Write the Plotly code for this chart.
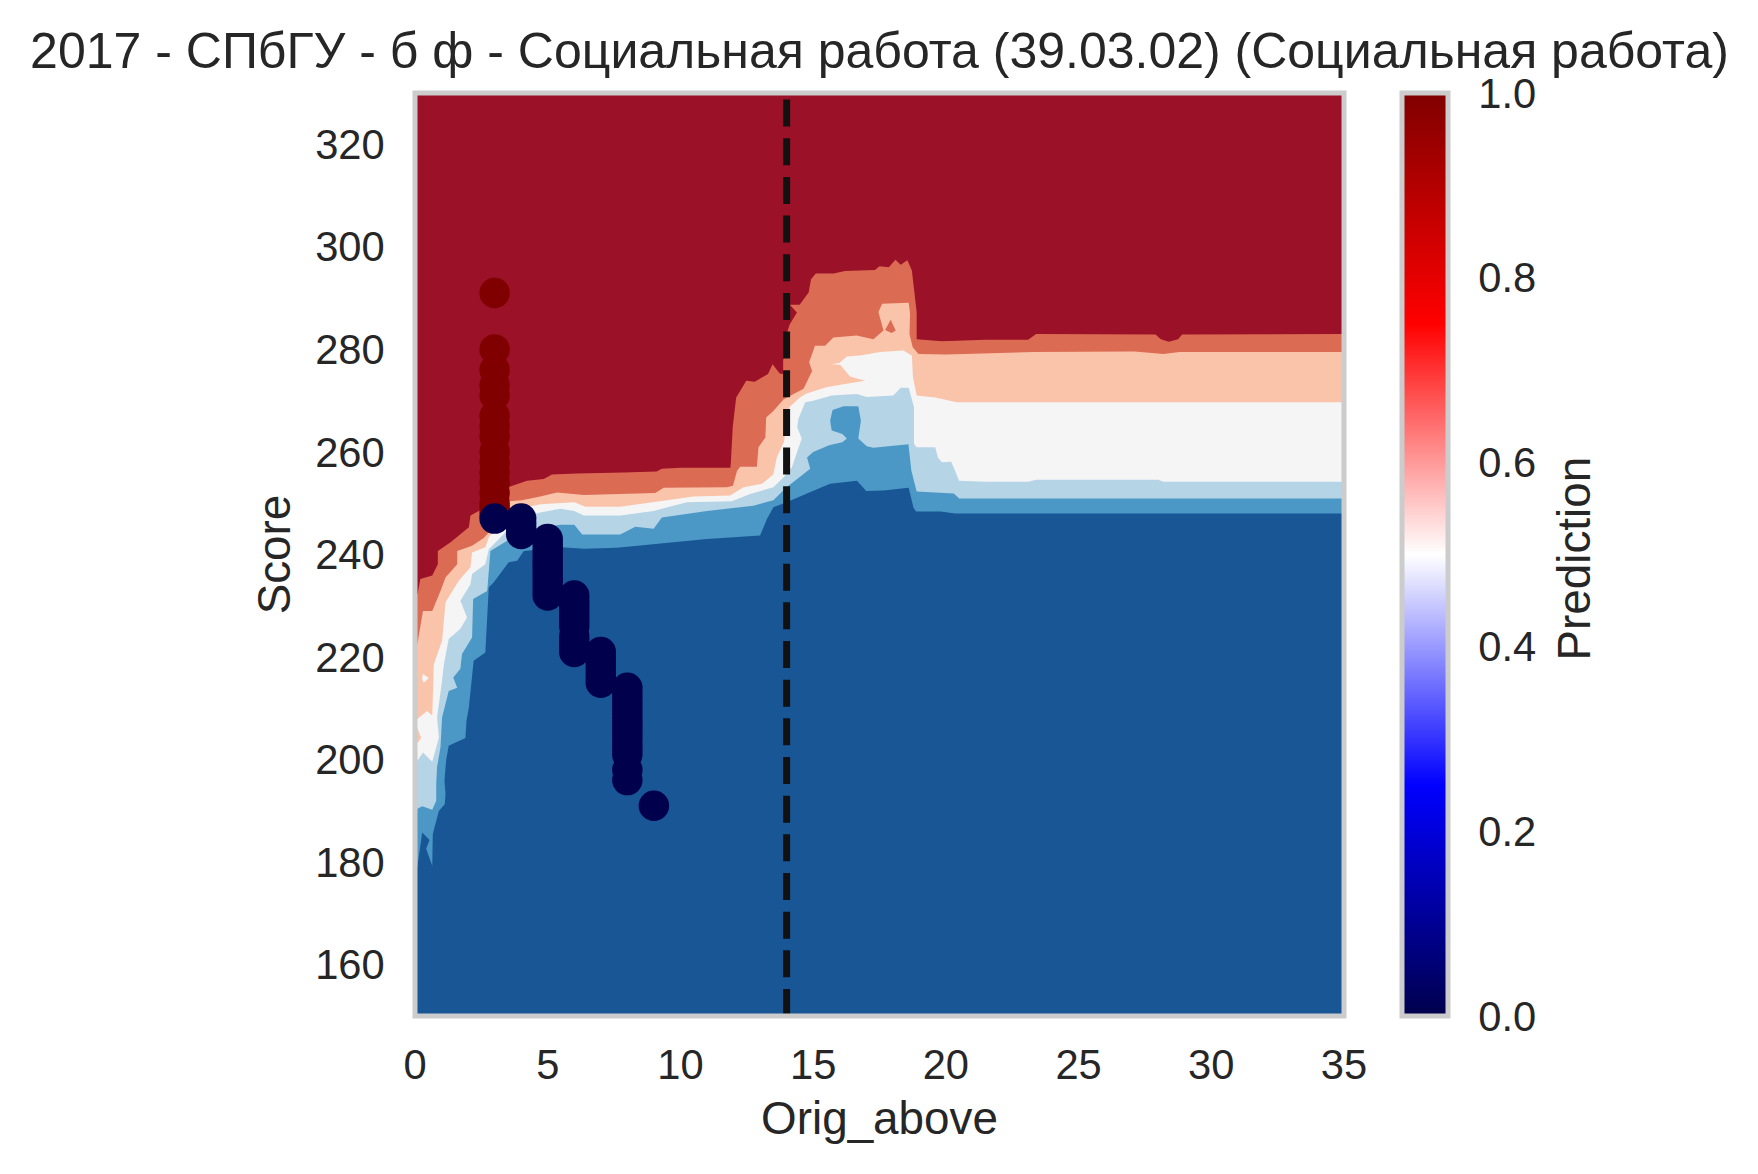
import plotly.graph_objects as go

TITLE = "2017 - СПбГУ - б ф - Социальная работа (39.03.02) (Социальная работа)"
X_LABEL = "Orig_above"
Y_LABEL = "Score"
CBAR_LABEL = "Prediction"
X_TICKS = [0, 5, 10, 15, 20, 25, 30, 35]
Y_TICKS = [160, 180, 200, 220, 240, 260, 280, 300, 320]
CBAR_TICKS = [0.0, 0.2, 0.4, 0.6, 0.8, 1.0]
THRESHOLD_X = 14

# Band boundaries: (Orig_above, Score)
salmon_top_x = [0, .1, .2, .65, .86, .86, 1.34, 1.71, 2.03, 2.09, 2.4, 3.0, 3.56, 4.22, 4.85, 5.16, 6.1, 7.86, 9.1, 9.3, 10, 11.88, 11.9, 11.97, 12.1, 12.25, 12.48, 12.8, 13.3, 13.47, 13.74, 13.87, 13.87, 14.0, 14.12, 14.39, 14.12, 14.49, 14.83, 14.92, 15.1, 15.77, 16.2, 17.33, 17.5, 17.85, 18.1, 18.3, 18.55, 18.72, 18.9, 18.9, 19.85, 21.5, 23.1, 23.4, 27.2, 27.9, 28.1, 28.4, 28.75, 28.9, 35]
salmon_top_y = [232, 232.3, 235.2, 235.9, 238.1, 240.7, 242.4, 244, 245.3, 247.6, 248.5, 251, 253.2, 254.4, 254.7, 255.6, 255.8, 256, 256.2, 256.7, 256.9, 256.9, 258, 264.8, 270.6, 271.9, 273.9, 273.7, 275.2, 277.1, 275.3, 275.2, 277.7, 283, 284.9, 287.2, 288.7, 288.7, 291.1, 293.7, 294.8, 294.8, 295.3, 295.5, 296.2, 296, 297.5, 296.5, 297.4, 295.4, 287.3, 282, 281.6, 281.9, 281.9, 283, 283, 282.9, 282, 281.5, 282, 282.9, 283]

light_salmon_top_x = [0, .1, .3, .65, .96, 1.15, 1.59, 1.59, 2.15, 2.59, 2.78, 3.2, 3.56, 4.03, 4.72, 5.35, 6.36, 9.05, 9.37, 11.75, 11.98, 12.13, 12.25, 12.88, 12.94, 13.2, 13.23, 13.5, 13.89, 14.26, 14.64, 14.96, 14.85, 15.07, 15.45, 15.76, 16.64, 17.27, 17.65, 17.46, 17.6, 18.6, 18.65, 18.63, 18.75, 18.97, 20, 23.3, 27.1, 28.2, 28.8, 35]
light_salmon_top_y = [221, 222.9, 229, 229, 232.9, 235.5, 238.1, 240.7, 241.7, 243.2, 244.3, 248, 250.4, 250.6, 251.3, 252.1, 251.6, 252, 253, 253.1, 253.4, 256.3, 257.1, 257.1, 260.9, 262.8, 266.7, 268, 270.3, 271.3, 272.3, 275.8, 277.5, 280.7, 280.7, 282.3, 282.7, 282, 283.7, 287.3, 288.9, 289.1, 287, 283, 280.4, 279.1, 279, 279.5, 279.6, 279.1, 279.5, 279.5]

white_top_x = [0, .46, .65, .69, .71, 1.02, 1.15, 1.65, 2.09, 2.15, 2.65, 2.78, 3.2, 3.6, 4.72, 6.0, 6.42, 7.73, 9.05, 10.5, 11.87, 12.38, 13.07, 13.5, 13.63, 13.9, 14.1, 14.5, 14.75, 15.5, 16.14, 16.96, 16.39, 16.02, 15.7, 16.0, 16.27, 16.77, 17.52, 18.4, 18.72, 18.76, 18.9, 19.6, 20.4, 35]
white_top_y = [207.6, 209.5, 208.6, 214.1, 218.6, 223.2, 230.7, 234.9, 237.5, 240.4, 241.4, 243.3, 246.5, 248.5, 249.8, 250.2, 249.3, 249.3, 250.2, 251.3, 251.5, 253.1, 253.8, 255.6, 258.9, 262, 268.7, 270.6, 271.4, 272.6, 273.2, 273.9, 274.7, 277, 277.1, 277.4, 278.6, 278.8, 279.5, 279.8, 278.8, 274.6, 271, 270.6, 269.7, 269.7]

light_blue_top_x = [0, .09, .3, .65, .9, .83, 1.02, 1.09, 1.27, 1.71, 1.96, 1.71, 2.09, 2.15, 2.65, 2.78, 3.22, 3.9, 4.72, 5.48, 6, 6.36, 7.73, 8.99, 10.24, 11.94, 12.63, 13.5, 13.88, 14.2, 14.57, 14.4, 14.45, 14.7, 15.0, 15.7, 16.65, 17.02, 18.02, 18.3, 18.6, 18.8, 18.8, 18.9, 19.6, 19.7, 19.85, 20.2, 20.35, 20.5, 21.5, 23.1, 23.4, 28, 28.2, 35]
light_blue_top_y = [199.5, 199.8, 201.4, 199.6, 204.3, 208.2, 215.4, 218.6, 223.5, 225.5, 227.7, 231, 234.2, 236.2, 238.1, 241, 243.3, 247, 248.2, 248.9, 248.5, 247.6, 247.6, 248.5, 250.2, 250.4, 251.8, 253.1, 255, 257, 262.6, 264.8, 266.5, 269.7, 270, 271, 271.3, 270.7, 271, 272.5, 272.5, 268.7, 261.6, 260.9, 260.9, 258.9, 258, 258.1, 256.3, 254.4, 254.2, 254.2, 254.6, 254.6, 254.2, 254.2]

mid_blue_top_x = [0, .09, .27, .65, .8, .8, .83, .96, 1.02, 1.27, 1.59, 1.44, 1.71, 1.77, 2.15, 2.19, 2.72, 2.84, 3.47, 4.5, 5.48, 6, 6.3, 7.73, 8.3, 8.99, 9.3, 11, 12.75, 13.5, 14, 14.89, 14.77, 15, 15.6, 16.1, 16.27, 16.1, 15.7, 15.64, 15.73, 16.15, 16.7, 16.8, 16.7, 17.02, 17.27, 18.59, 18.7, 18.9, 20.3, 20.5, 35]
mid_blue_top_y = [190, 190.4, 190.9, 190.2, 192, 195.2, 198.5, 202.4, 208.2, 213.4, 214, 216, 217.7, 220.6, 223.8, 231.3, 232.9, 240.7, 242.7, 245, 245.8, 245.8, 243.9, 243.9, 245.4, 245, 247.2, 248.5, 249.5, 250.6, 253.1, 256.7, 258.9, 260, 261.3, 261.9, 262.6, 263.5, 264.2, 266.1, 268.2, 268.9, 268.9, 266.1, 262.6, 261.1, 260.8, 261.5, 256.4, 252.3, 251.9, 250.9, 250.9]

dark_blue_top_x = [0, .09, .27, .55, .42, .65, .67, .77, .9, 1.12, 1.15, 1.11, 1.17, 1.27, 1.9, 1.94, 2.03, 2.21, 2.65, 2.78, 2.97, 3.53, 3.85, 4.1, 5.54, 6.36, 7.61, 9.74, 11, 13, 13.26, 13.5, 14, 14.9, 15.64, 16.65, 17, 17.65, 18.6, 18.78, 18.88, 19.8, 20.35, 35]
dark_blue_top_y = [179, 179.1, 185.8, 184.3, 182.6, 179.3, 185.5, 187.4, 190, 191.3, 193.3, 195.9, 199.8, 202.7, 204.2, 207.6, 210.2, 219.3, 220.9, 233.6, 234.6, 238.5, 238.8, 240.7, 241.4, 241.1, 241.3, 242.4, 243, 243.7, 246.9, 249.2, 250.2, 252.2, 253.8, 254.4, 252.4, 252.5, 253, 249.1, 248.4, 248.4, 248, 248]

# Small islands of one band inside another
white_island_x = [.29, .52, .33, .27]
white_island_y = [216.7, 215.9, 215, 215.7]
light_salmon_island_x = [0, .1, .23, .1, 0]
light_salmon_island_y = [206.5, 206, 204.2, 203.3, 203.5]
salmon_island_x = [17.71, 17.92, 18.11, 17.96]
salmon_island_y = [283.8, 285.8, 283.7, 283.2]

# Observations
admitted_x = [3] * 16
admitted_score = [291, 280, 276, 273, 271, 267, 265, 263, 260, 258, 256, 254, 252, 250, 249, 248]
rejected_x = [3] + [4] * 4 + [5] * 12 + [6] * 11 + [7] * 7 + [8] * 16 + [9]
rejected_score = [247,
                  247, 246, 245, 244,
                  243, 242, 241, 240, 239, 238, 237, 236, 235, 234, 233, 232,
                  232, 231, 230, 229, 228, 227, 226, 224, 223, 222, 221,
                  221, 220, 219, 218, 217, 216, 215,
                  214, 213, 212, 211, 210, 209, 208, 207, 206, 205, 204, 203, 202, 201, 198, 196,
                  191]
point_x = admitted_x + rejected_x
point_score = admitted_score + rejected_score
point_pred = [1] * len(admitted_x) + [0] * len(rejected_x)

RED = "#9b1127"; SALMON = "#dc6b54"; LIGHT_SALMON = "#fac4aa"; WHITE = "#f5f5f5"
LIGHT_BLUE = "#b5d5e7"; MID_BLUE = "#4b98c6"; DARK_BLUE = "#195696"
INK = "#262626"; SPINE = "#cccccc"
FONT = "Liberation Sans, Arial, sans-serif"
SEISMIC = [[0, "#00004d"], [.25, "#0000ff"], [.5, "#ffffff"], [.75, "#ff0000"], [1, "#800000"]]

fig = go.Figure()
for xs, ys, col in [
    (salmon_top_x, salmon_top_y, SALMON),
    (light_salmon_top_x, light_salmon_top_y, LIGHT_SALMON),
    (white_top_x, white_top_y, WHITE),
    (light_blue_top_x, light_blue_top_y, LIGHT_BLUE),
    (mid_blue_top_x, mid_blue_top_y, MID_BLUE),
    (dark_blue_top_x, dark_blue_top_y, DARK_BLUE),
]:
    fig.add_trace(go.Scatter(x=xs, y=ys, mode="lines", fill="tozeroy", fillcolor=col,
                             line=dict(width=0), hoverinfo="skip", showlegend=False))
for xs, ys, col in [
    (white_island_x, white_island_y, WHITE),
    (light_salmon_island_x, light_salmon_island_y, LIGHT_SALMON),
    (salmon_island_x, salmon_island_y, SALMON),
]:
    fig.add_trace(go.Scatter(x=xs, y=ys, mode="lines", fill="toself", fillcolor=col,
                             line=dict(width=0), hoverinfo="skip", showlegend=False))

fig.add_trace(go.Scatter(x=point_x, y=point_score, mode="markers", showlegend=False,
                         marker=dict(size=30.5, color=point_pred, coloraxis="coloraxis",
                                     line=dict(width=0))))
fig.add_trace(go.Scatter(x=[THRESHOLD_X, THRESHOLD_X], y=[150, 330], mode="lines", showlegend=False,
                         line=dict(color="#111111", width=7, dash="27px,11.67px")))

W, H = 1742, 1150
L, T = 406.5, 84.5
PW, PH = 930, 924
tickfont = dict(family=FONT, size=41.67, color=INK)
labelfont = dict(family=FONT, size=45.8, color=INK)

fig.update_layout(
    width=W, height=H, autosize=False,
    margin=dict(l=L, r=W - L - PW, t=T, b=H - T - PH, pad=0),
    paper_bgcolor="white", plot_bgcolor=RED,
    font=dict(family=FONT, color=INK),
    title=dict(text=TITLE, font=dict(family=FONT, size=50, color=INK), x=(L + PW / 2) / W,
               xanchor="center", y=1 - 42 / H, yanchor="middle"),
    xaxis=dict(range=[0, 35], tickvals=X_TICKS, showgrid=False, zeroline=False, showline=False,
               ticks="outside", ticklen=12, tickcolor="rgba(0,0,0,0)", tickfont=tickfont,
               title=dict(text=X_LABEL, font=labelfont, standoff=14.5)),
    yaxis=dict(range=[150, 330], tickvals=Y_TICKS, showgrid=False, zeroline=False, showline=False,
               ticks="outside", ticklen=21, tickcolor="rgba(0,0,0,0)", tickfont=tickfont,
               title=dict(text=Y_LABEL, font=labelfont, standoff=9.5)),
    coloraxis=dict(cmin=0, cmax=1, colorscale=SEISMIC, colorbar=dict(
        x=1 + 58 / PW, xanchor="left", xref="paper", y=0, yanchor="bottom", yref="paper",
        len=1, lenmode="fraction", thickness=46, thicknessmode="pixels", xpad=0, ypad=0,
        outlinecolor=SPINE, outlinewidth=5, borderwidth=0,
        tickvals=CBAR_TICKS, tickformat=".1f", ticks="outside", ticklen=20,
        tickcolor="rgba(0,0,0,0)", tickfont=tickfont)),
    annotations=[dict(text=CBAR_LABEL, textangle=-90, font=labelfont, showarrow=False,
                      xref="paper", yref="paper", x=1 + 230.5 / PW, y=0.496,
                      xanchor="center", yanchor="middle")],
    shapes=[dict(type="rect", xref="paper", yref="paper", x0=0, x1=1, y0=0, y1=1,
                 line=dict(color=SPINE, width=5), fillcolor="rgba(0,0,0,0)", layer="above")],
)
fig.write_html("out.html")
